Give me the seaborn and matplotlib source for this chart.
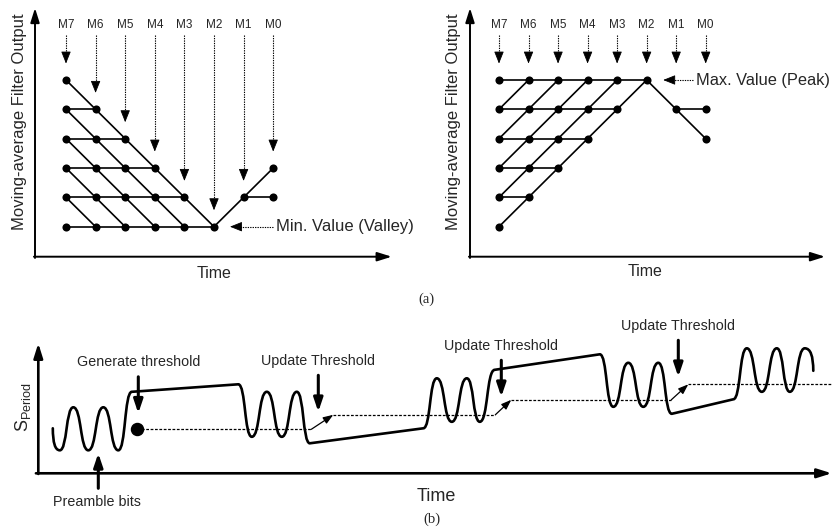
import matplotlib
matplotlib.use("Agg")
import matplotlib.pyplot as plt
from matplotlib.path import Path
from matplotlib.patches import PathPatch
import pandas as pd
import seaborn as sns

sns.set_style("white")
plt.rcParams["font.family"] = ["Liberation Sans", "DejaVu Sans"]
plt.rcParams["mathtext.fontset"] = "custom"
plt.rcParams["mathtext.rm"] = "Liberation Sans"
plt.rcParams["mathtext.default"] = "regular"

W, H = 832, 531

# ---------------- (a) moving-average filter taps ----------------
taps = ["M7", "M6", "M5", "M4", "M3", "M2", "M1", "M0"]

# levels holding a dot in each tap column (0 = lowest row)
valley_dots = [[5, 4, 3, 2, 1, 0], [4, 3, 2, 1, 0], [3, 2, 1, 0], [2, 1, 0],
               [1, 0], [0], [1], [2, 1]]
# (tap_from, level_from, tap_to, level_to)
valley_segs = [(0, 4, 1, 4), (0, 3, 2, 3), (0, 2, 3, 2), (0, 1, 4, 1), (0, 0, 5, 0), (6, 1, 7, 1),
               (0, 5, 5, 0), (0, 4, 4, 0), (0, 3, 3, 0), (0, 2, 2, 0), (0, 1, 1, 0), (5, 0, 7, 2)]
valley_arrow = [5, 4, 3, 2, 1, 0, 1, 2]

peak_dots = [[5, 4, 3, 2, 1, 0], [5, 4, 3, 2, 1], [5, 4, 3, 2], [5, 4, 3],
             [5, 4], [5], [4], [4, 3]]
peak_segs = [(0, 5, 5, 5), (0, 4, 4, 4), (0, 3, 3, 3), (0, 2, 2, 2), (0, 1, 1, 1), (6, 4, 7, 4),
             (0, 0, 5, 5), (0, 1, 4, 5), (0, 2, 3, 5), (0, 3, 2, 5), (0, 4, 1, 5), (5, 5, 7, 3)]
peak_arrow = [5, 5, 5, 5, 5, 5, 5, 5]

# ---------------- (b) S_Period trace ----------------
wave_t = [1.45, 2.15, 3.5, 5.0, 6.5, 8.0, 9.35, 20.0, 21.35, 22.85, 24.35, 25.85, 27.15,
          38.5, 39.85, 41.35, 42.85, 44.15, 45.65, 56.15, 57.5, 59.0, 60.5, 62.0, 63.35,
          69.5, 70.85, 72.35, 73.85, 75.15, 76.65, 77.5]
wave_s = [4.5, 2.3, 6.6, 2.3, 6.6, 2.3, 8.15, 8.9, 3.65, 8.15, 3.65, 8.15, 3.0,
          4.5, 9.5, 5.15, 9.5, 5.15, 10.35, 11.9, 6.65, 11.05, 6.65, 11.05, 5.95,
          7.4, 12.5, 8.15, 12.5, 8.15, 12.5, 10.25]
# how the trace reaches each point: M start, I ease in, S swing, L straight, O ease out
wave_kind = "MISSSSSLSSSSSLSSSSSLSSSSSLSSSSSO"

thr_start = [9.9, 29.5, 47.3, 65.0]
thr_end = [27.3, 45.7, 63.3, 79.4]
thr_level = [4.4, 5.85, 7.35, 8.9]

event_labels = ["Generate threshold", "Update Threshold", "Update Threshold", "Update Threshold"]
event_t = [10.0, 28.0, 46.3, 64.0]
event_tip = [6.0, 6.15, 7.65, 9.65]
preamble_t, preamble_tip = 6.0, 2.0


def px_axes(fig, left, top, right, bottom):
    ax = fig.add_axes([left / W, 1 - bottom / H, (right - left) / W, (bottom - top) / H])
    ax.set_axis_off()
    return ax


def ftext(fig, x, y, s, **kw):
    fig.text(x / W, 1 - y / H, s, ha="center", va="center", **kw)


def arrow(ax, start, end, lw, hl, hw, coords="data"):
    ax.annotate("", xy=end, xytext=start, xycoords=coords, textcoords=coords,
                annotation_clip=False,
                arrowprops=dict(arrowstyle=f"-|>,head_length={hl},head_width={hw}",
                                lw=lw, color="black", shrinkA=0, shrinkB=0,
                                mutation_scale=10))


def dotted_arrow(ax, start, end, frac):
    # dotted shaft, solid head
    hx = end[0] + (start[0] - end[0]) * frac
    hy = end[1] + (start[1] - end[1]) * frac
    ax.plot([start[0], hx], [start[1], hy], color="black", lw=0.8, ls=(0, (1.2, 1.0)),
            clip_on=False)
    arrow(ax, (hx, hy), end, 0.6, 0.75, 0.3)


def axis_arrows(ax, lw):
    arrow(ax, (-0.003, 0), (1, 0), lw, 0.86, 0.27, coords="axes fraction")
    arrow(ax, (0, -0.005), (0, 1), lw, 0.86, 0.27, coords="axes fraction")


def grid_panel(ax, dots, segs, arrow_to):
    rows = []
    for i, (c0, l0, c1, l1) in enumerate(segs):
        rows += [dict(seg=i, tap=c0, level=l0), dict(seg=i, tap=c1, level=l1)]
    sns.lineplot(data=pd.DataFrame(rows), x="tap", y="level", units="seg", estimator=None,
                 sort=False, color="black", lw=1.2, ax=ax, legend=False)
    pts = pd.DataFrame([dict(tap=c, level=l) for c, lv in enumerate(dots) for l in lv])
    sns.scatterplot(data=pts, x="tap", y="level", color="black", s=34, linewidth=0,
                    zorder=3, ax=ax, legend=False)
    for c, (name, tgt) in enumerate(zip(taps, arrow_to)):
        ax.text(c, 6.87, name, ha="center", va="center", fontsize=8.5)
        top, tip = 6.53, tgt + 0.56
        dotted_arrow(ax, (c, top), (c, tip), 0.25 / (top - tip))
    ax.set_axis_off()


fig = plt.figure(figsize=(W / 100, H / 100), dpi=100)

# (a) left: valley
ax1 = px_axes(fig, 35, 8, 391.7, 256.7)
ax1.set_xlim((35 - 66) / 29.6, (391.7 - 66) / 29.6)
ax1.set_ylim((226.7 - 256.7) / 29.34, (226.7 - 8) / 29.34)
grid_panel(ax1, valley_dots, valley_segs, valley_arrow)
axis_arrows(ax1, 1.4)
dotted_arrow(ax1, (7.0, 0), (5.54, 0), 0.25 / 1.46)
ax1.text(7.1, 0, "Min. Value (Valley)", ha="left", va="center", fontsize=12)

# (a) right: peak
ax2 = px_axes(fig, 470, 8, 825, 256.7)
ax2.set_xlim((470 - 499) / 29.53, (825 - 499) / 29.53)
ax2.set_ylim((226.7 - 256.7) / 29.34, (226.7 - 8) / 29.34)
grid_panel(ax2, peak_dots, peak_segs, peak_arrow)
axis_arrows(ax2, 1.4)
dotted_arrow(ax2, (6.58, 5), (5.56, 5), 0.25 / 1.02)
ax2.text(6.67, 5, "Max. Value (Peak)", ha="left", va="center", fontsize=11.8)

ftext(fig, 20, 121.7, "Moving-average Filter Output", rotation=90, fontsize=12)
ftext(fig, 453.3, 121.7, "Moving-average Filter Output", rotation=90, fontsize=12)
ftext(fig, 214, 273, "Time", fontsize=11.5)
ftext(fig, 645, 272, "Time", fontsize=11.5)
ftext(fig, 426.7, 299, "(a)", fontsize=10.5, family="Liberation Serif")

# (b) S_Period trace with thresholds
ax3 = px_axes(fig, 38.3, 343.3, 831.7, 473.3)
ax3.set_xlim(0, (831.7 - 38.3) / 10)
ax3.set_ylim(0, 13.0)
axis_arrows(ax3, 1.9)

verts, codes = [(wave_t[0], wave_s[0])], [Path.MOVETO]
k = 0.55
for i in range(1, len(wave_t)):
    x0, y0, x1, y1 = wave_t[i - 1], wave_s[i - 1], wave_t[i], wave_s[i]
    kind = wave_kind[i]
    if kind == "L":
        verts.append((x1, y1))
        codes.append(Path.LINETO)
    elif kind == "S":
        dx = x1 - x0
        verts += [(x0 + k * dx, y0), (x1 - k * dx, y1), (x1, y1)]
        codes += [Path.CURVE4] * 3
    elif kind == "I":
        verts += [(x0, y1), (x1, y1)]
        codes += [Path.CURVE3] * 2
    else:
        verts += [(x1, y0), (x1, y1)]
        codes += [Path.CURVE3] * 2
ax3.add_patch(PathPatch(Path(verts, codes), fill=False, lw=1.9, color="black",
                        capstyle="round", joinstyle="round", clip_on=False))

for i in range(len(thr_level)):
    ax3.plot([thr_start[i], thr_end[i]], [thr_level[i], thr_level[i]], color="black",
             lw=0.9, ls=(0, (2.2, 1.3)), clip_on=False)
    if i + 1 < len(thr_level):
        arrow(ax3, (thr_end[i], thr_level[i]), (thr_start[i + 1], thr_level[i + 1]),
              0.9, 0.6, 0.22)
ax3.scatter([thr_start[0]], [thr_level[0]], s=75, color="black", zorder=4, clip_on=False)

for lab, t, tip in zip(event_labels, event_t, event_tip):
    arrow(ax3, (t, tip + 3.65), (t, tip), 2.2, 0.8, 0.27)
    ax3.text(t, tip + 5.1, lab, ha="center", va="center", fontsize=10.3)
arrow(ax3, (preamble_t, preamble_tip - 3.5), (preamble_t, preamble_tip), 2.2, 0.8, 0.27)
ax3.text(preamble_t - 0.1, preamble_tip - 4.85, "Preamble bits", ha="center", va="center",
         fontsize=10.3)

ftext(fig, 23.3, 407.5, r"S$_{Period}$", rotation=90, fontsize=13)
ftext(fig, 436.7, 496.5, "Time", fontsize=13)
ftext(fig, 431.7, 519, "(b)", fontsize=10.5, family="Liberation Serif")

fig.savefig("out.png", dpi=100)
